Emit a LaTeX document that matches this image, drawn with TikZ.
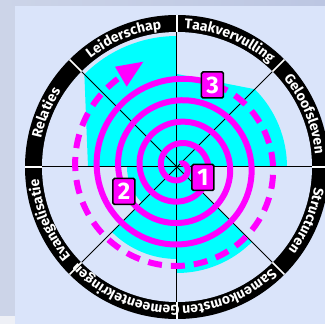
\documentclass[tikz,border=0pt]{standalone}
\usepackage{fontspec}
\setsansfont{Fira Sans}
\usetikzlibrary{decorations.text}

\definecolor{stripblue}{RGB}{204,212,232}
\definecolor{stripdark}{RGB}{188,198,226}
\definecolor{stripwhite}{RGB}{238,240,246}
\definecolor{panelblue}{RGB}{218,228,250}
\definecolor{spiralpink}{RGB}{255,0,255}
\definecolor{fillcyan}{RGB}{0,255,255}

\tikzset{
	spoke/.style={line width=1pt},
	spiralline/.style={spiralpink, line width=6pt},
	bandtext/.style={decorate, decoration={text along path, text={|\sffamily\bfseries\fontsize{14}{14}\selectfont|#1}, text align=center, text color=white}},
	numbox/.style={draw=black, line width=1.5pt, fill=spiralpink, rounded corners=1.5pt, minimum width=22pt, minimum height=26pt, inner sep=0pt, text=white, font=\sffamily\bfseries\fontsize{24}{24}\selectfont}
}

\begin{document}
\begin{tikzpicture}[x=1pt, y=1pt]
	\useasboundingbox (-177, -157) rectangle (148, 167);

	% background
	\fill[stripblue] (-177, -157) rectangle (148, 167);
	\shade[left color=stripblue, right color=stripdark] (-177, 161) rectangle (148, 167);
	\fill[stripwhite] (-177, -157) rectangle (-162, -149);
	\fill[panelblue] (-162, -157) rectangle (148, 161);

	% ring
	\fill (0, 0) circle (152);
	\fill[panelblue] (0, 0) circle (135);

	% scores
	\fill[fillcyan] (0:110) arc[start angle=0, end angle=45, radius=110] -- (90:93)
		-- (90:131) arc[start angle=90, end angle=135, radius=131] -- (180:89)
		-- (180:50) arc[start angle=180, end angle=225, radius=50]
		-- (225:92) arc[start angle=225, end angle=270, radius=92]
		-- (270:106) arc[start angle=270, end angle=315, radius=106]
		-- (315:18) arc[start angle=315, end angle=360, radius=18] -- cycle;

	\foreach \a in {0, 45, ..., 315} {
			\draw[spoke] (0, 0) -- (\a:135);
			\draw[white, line width=1.5pt] (\a:135) -- (\a:152);
		}

	% spiral
	\draw[spiralline] plot[domain=0:1450, samples=400, variable=\t] ({2.5 + (3 + 0.0597*\t)*cos(1517 - \t)}, {(3 + 0.0597*\t)*sin(1517 - \t)});
	\draw[spiralline, dash pattern=on 14pt off 9pt] plot[domain=1450:1752, samples=120, variable=\t] ({2.5 + (3 + 0.0597*\t)*cos(1517 - \t)}, {(3 + 0.0597*\t)*sin(1517 - \t)});
	\fill[spiralpink] (-62, 100.3) -- (-33.7, 105.3) -- (-50.3, 80.3) -- cycle;

	\node[numbox] (box1) at (26, -10.5) {1};
	\node[numbox] (box2) at (-53, -24.5) {2};
	\node[numbox] (box3) at (35.5, 82) {3};

	% sector names
	\path[bandtext=Leiderschap] (135.5:138.7) arc[start angle=135.5, end angle=89.5, radius=138.7];
	\path[bandtext=Taakvervulling] (90.5:138.7) arc[start angle=90.5, end angle=44.5, radius=138.7];
	\path[bandtext=Geloofsleven] (45.5:138.7) arc[start angle=45.5, end angle=-0.5, radius=138.7];
	\path[bandtext=Structuren] (0.5:138.7) arc[start angle=0.5, end angle=-45.5, radius=138.7];
	\path[bandtext=Samenkomsten] (-44.5:138.7) arc[start angle=-44.5, end angle=-90.5, radius=138.7];
	\path[bandtext=Gemeentekringen] (-89.5:138.7) arc[start angle=-89.5, end angle=-135.5, radius=138.7];
	\path[bandtext=Evangelisatie] (-134.5:138.7) arc[start angle=-134.5, end angle=-180.5, radius=138.7];
	\path[bandtext=Relaties] (180.5:138.7) arc[start angle=180.5, end angle=134.5, radius=138.7];
\end{tikzpicture}
\end{document}
